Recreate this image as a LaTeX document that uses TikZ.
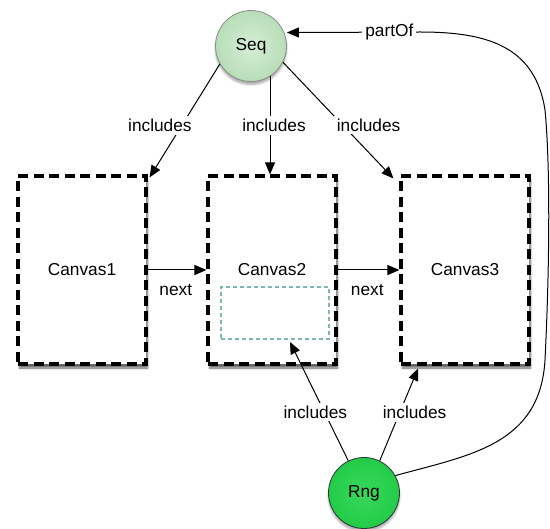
\documentclass[tikz,border=0pt]{standalone}
\usepackage{fontspec}
\setmainfont{Liberation Sans}
\usetikzlibrary{arrows.meta,shadows.blur}
\definecolor{seqfill}{HTML}{B8DDB8}
\definecolor{seqin}{HTML}{D6EED6}
\definecolor{rngfill}{HTML}{22CC48}
\definecolor{rngin}{HTML}{3AD85C}
\definecolor{teal}{HTML}{7DB6B6}
\tikzset{
  x=1pt, y=-1pt,
  every node/.style={font=\fontsize{17.3}{19}\selectfont},
  canvasbox/.style={draw=black, line width=3.1pt, dash pattern=on 10pt off 5.5pt, fill=white,
    minimum width=128pt, minimum height=188pt, inner sep=0pt,
    blur shadow={shadow xshift=1.5pt, shadow yshift=-4pt, shadow blur steps=6, shadow opacity=60}},
  seqnode/.style={circle, draw=black!45, line width=0.8pt, inner color=seqin, outer color=seqfill,
    minimum size=71pt, inner sep=0pt,
    blur shadow={shadow xshift=0pt, shadow yshift=-3pt, shadow blur steps=5, shadow opacity=35}},
  rngnode/.style={circle, draw=black!80, line width=0.8pt, inner color=rngin, outer color=rngfill,
    minimum size=71pt, inner sep=0pt,
    blur shadow={shadow xshift=0pt, shadow yshift=-3pt, shadow blur steps=5, shadow opacity=35}},
  subbox/.style={draw=teal, line width=1.8pt, dash pattern=on 4pt off 3pt,
    minimum width=108pt, minimum height=52pt, inner sep=0pt},
  arr/.style={draw=black, line width=1pt, -{Triangle[length=12pt,width=10pt]}},
  lbl/.style={fill=white, inner sep=3pt},
}
\begin{document}
\begin{tikzpicture}
\useasboundingbox (0,0) rectangle (550,529);
\node[canvasbox] (c1) at (82,270) {Canvas1};
\node[canvasbox] (c2) at (272,270) {};
\node at (272,270) {Canvas2};
\node[canvasbox] (c3) at (465,270) {Canvas3};
\node[subbox] (sub) at (275,313) {};
\node[seqnode] (seq) at (251,46) {Seq};
\node[rngnode] (rng) at (364,493) {Rng};

% includes from Seq
\draw[arr] (seq.210) -- ([xshift=2pt,yshift=-3pt]c1.north east)
  node[lbl, pos=0.54, xshift=-22pt] {includes};
\draw[arr] (seq.302) -- (seq.302 |- c2.north)
  node[lbl, pos=0.5, xshift=4pt] {includes};
\draw[arr] (seq.-27) -- ([xshift=-6pt,yshift=-4pt]c3.north west)
  node[lbl, pos=0.54, xshift=26pt] {includes};

% next
\draw[arr] (c1.east) -- (c2.west) node[pos=0.48, below=12pt, fill=white, inner sep=2pt] {next};
\draw[arr] (c2.east) -- (c3.west) node[pos=0.48, below=12pt, fill=white, inner sep=2pt] {next};

% includes from Rng
\draw[arr] (rng.116) -- ([xshift=15pt,yshift=-2pt]sub.south)
  node[lbl, pos=0.41, xshift=-9pt] {includes};
\draw[arr] (rng.64) -- ([xshift=-47pt,yshift=-3pt]c3.south)
  node[lbl, pos=0.52, xshift=15pt] {includes};

% partOf
\draw[arr] (rng.29) .. controls (470,455) and (540,445) .. (545,360)
  .. controls (550,260) and (550,160) .. (545,110)
  .. controls (535,45) and (485,32) .. (420,32)
  -- (seq.22 -| seq.east) node[lbl, pos=0.23] {partOf};
\end{tikzpicture}
\end{document}
